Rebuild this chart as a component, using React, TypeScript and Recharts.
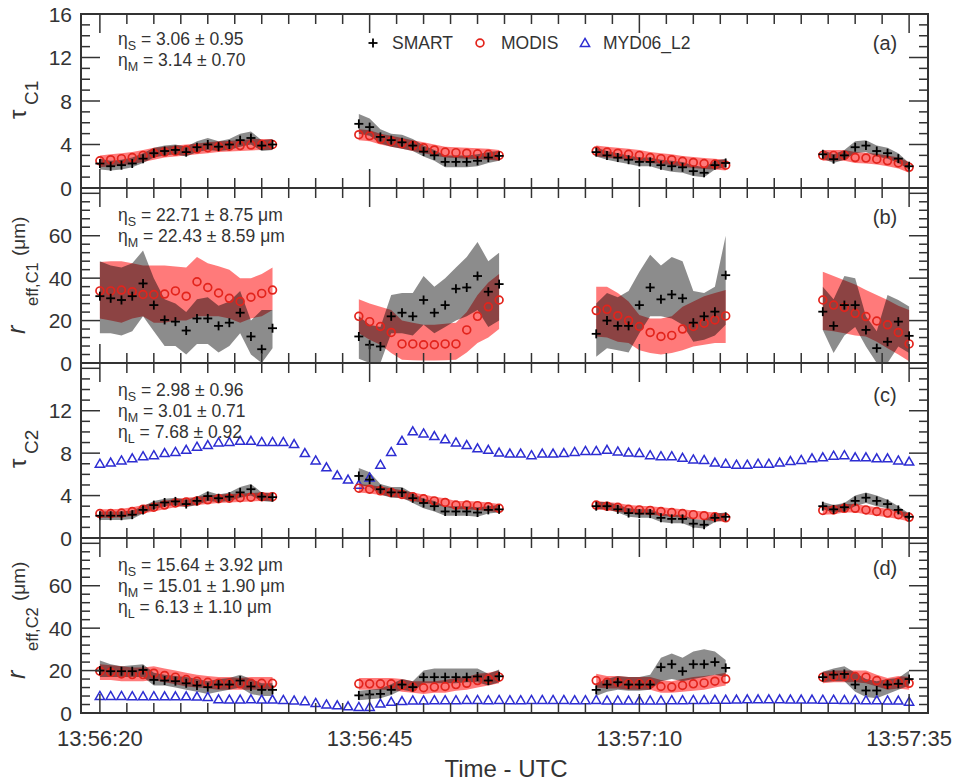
import React from 'react';
import { ComposedChart, Area, Line, XAxis, YAxis, ReferenceArea } from 'recharts';

// ==========================================
// STYLE
// ==========================================

const FONT = '"Liberation Sans", Arial, Helvetica, sans-serif';
const INK = '#333333';
const RED = '#e3241c';
const BLUE = '#2d2dd2';

const PLOT_L = 81;
const PLOT_R = 928;
const M = 30;
const X_DOMAIN = [-1.75, 76.75];

// ==========================================
// DATA  (seconds after 13:56:20)
// ==========================================

// start second of each measurement leg (17, 14, 13, 9 samples)
const LEG_START = [0, 24, 46, 67];
const TIME_LABELS = ['13:56:20', '13:56:45', '13:57:10', '13:57:35'];
const TIME_TICKS = [0, 25, 50, 75];

const LEGEND_NAMES = ['SMART', 'MODIS', 'MYD06_L2'];

const Y_LABELS_A = [0, 4, 8, 12, 16];
const Y_LABELS_B = [0, 20, 40, 60];
const Y_LABELS_C = [0, 4, 8, 12];
const Y_LABELS_D = [0, 20, 40, 60];

const STATS_A = [['S', '3.06 ± 0.95'], ['M', '3.14 ± 0.70']];
const STATS_B = [['S', '22.71 ± 8.75 μm'], ['M', '22.43 ± 8.59 μm']];
const STATS_C = [['S', '2.98 ± 0.96'], ['M', '3.01 ± 0.71'], ['L', '7.68 ± 0.92']];
const STATS_D = [['S', '15.64 ± 3.92 μm'], ['M', '15.01 ± 1.90 μm'], ['L', '6.13 ± 1.10 μm']];

// ---- (a) tau C1
const tauC1Smart = [
  [2.25, 2.0, 2.1, 2.25, 2.7, 3.2, 3.4, 3.5, 3.3, 3.75, 4.0, 3.8, 4.0, 4.4, 4.6, 3.9, 4.0],
  [5.9, 5.6, 4.7, 4.4, 4.2, 3.9, 3.35, 3.0, 2.4, 2.4, 2.4, 2.5, 2.8, 2.95],
  [3.3, 3.0, 2.8, 2.6, 2.4, 2.4, 2.1, 2.0, 1.9, 1.55, 1.4, 2.1, 2.3],
  [3.1, 2.65, 3.0, 3.75, 3.9, 3.4, 3.2, 2.7, 2.0]
];
const tauC1Modis = [
  [2.5, 2.6, 2.7, 2.8, 3.0, 3.2, 3.3, 3.4, 3.5, 3.6, 3.7, 3.8, 3.85, 3.9, 3.95, 4.0, 4.0],
  [4.9, 4.8, 4.5, 4.3, 4.1, 3.9, 3.7, 3.5, 3.3, 3.25, 3.2, 3.15, 3.1, 3.0],
  [3.4, 3.3, 3.2, 3.1, 3.0, 2.8, 2.7, 2.6, 2.45, 2.35, 2.25, 2.2, 2.1],
  [3.0, 3.0, 3.0, 2.8, 2.75, 2.65, 2.5, 2.3, 1.9]
];
const tauC1SmartLo = [
  [1.7, 1.6, 1.7, 1.9, 2.3, 2.8, 3.0, 3.1, 2.9, 3.3, 3.5, 3.4, 3.5, 3.8, 4.0, 3.4, 3.5],
  [5.0, 4.8, 4.1, 3.8, 3.6, 3.4, 2.9, 2.5, 1.9, 1.9, 1.9, 2.0, 2.3, 2.5],
  [2.9, 2.6, 2.4, 2.2, 2.0, 2.0, 1.7, 1.5, 1.4, 1.1, 1.0, 1.7, 1.9],
  [2.7, 2.3, 2.6, 3.2, 3.3, 2.9, 2.7, 2.3, 1.7]
];
const tauC1SmartHi = [
  [2.7, 2.5, 2.6, 2.8, 3.2, 3.7, 3.9, 4.0, 3.8, 4.3, 4.6, 4.3, 4.5, 5.0, 5.2, 4.4, 4.5],
  [6.8, 6.4, 5.4, 5.0, 4.9, 4.5, 3.9, 3.5, 3.0, 3.0, 3.0, 3.1, 3.3, 3.4],
  [3.7, 3.4, 3.2, 3.0, 2.8, 2.8, 2.6, 2.5, 2.4, 2.1, 1.9, 2.5, 2.7],
  [3.5, 3.1, 3.5, 4.3, 4.4, 3.9, 3.7, 3.2, 2.3]
];
const tauC1ModisLo = [
  [1.9, 2.0, 2.1, 2.2, 2.4, 2.6, 2.8, 2.9, 3.0, 3.1, 3.2, 3.3, 3.35, 3.4, 3.45, 3.5, 3.5],
  [4.4, 4.3, 4.0, 3.8, 3.6, 3.4, 3.2, 3.0, 2.8, 2.75, 2.7, 2.65, 2.6, 2.5],
  [2.9, 2.8, 2.7, 2.6, 2.5, 2.3, 2.2, 2.1, 1.95, 1.85, 1.75, 1.7, 1.6],
  [2.5, 2.5, 2.5, 2.3, 2.25, 2.15, 2.0, 1.8, 1.4]
];
const tauC1ModisHi = [
  [3.0, 3.1, 3.2, 3.3, 3.5, 3.7, 3.8, 3.9, 4.0, 4.1, 4.2, 4.3, 4.35, 4.4, 4.5, 4.5, 4.5],
  [5.4, 5.3, 5.0, 4.8, 4.6, 4.4, 4.2, 4.0, 3.8, 3.75, 3.7, 3.65, 3.6, 3.5],
  [3.9, 3.8, 3.7, 3.6, 3.5, 3.3, 3.2, 3.1, 2.95, 2.85, 2.75, 2.7, 2.6],
  [3.5, 3.5, 3.5, 3.3, 3.25, 3.15, 3.0, 2.8, 2.4]
];

// ---- (b) r_eff C1
const reffC1Smart = [
  [31.5, 30.5, 29.7, 31.5, 37.5, 27.3, 20.3, 19.5, 15.3, 21, 21, 17.5, 19, 23.7, 12.5, 6.5, 16.4],
  [12.5, 8.6, 7.8, 22, 23.7, 22, 29.7, 23.7, 27.3, 35, 35.6, 41, 33.6, 37.2],
  [13.75, 20, 17.5, 17.5, 27.3, 35.6, 30, 32.3, 30.5, 19, 22, 24.2, 41.4],
  [24.2, 17.5, 27.3, 27.3, 15.6, 7, 10, 19.5, 12.8]
];
const reffC1Modis = [
  [34, 34, 34.4, 33.6, 32.3, 32.3, 32.5, 34, 31.5, 38.3, 35.6, 33, 30.5, 29, 31, 32.8, 34.4],
  [22, 19.5, 17.2, 14.4, 9, 9, 8.6, 8.6, 9, 9, 15.6, 22, 26.5, 29.7],
  [24.7, 25.3, 22.3, 20, 17.2, 14.4, 12.5, 13, 16, 17.2, 18.75, 20.3, 22.2],
  [29.7, 27.3, 26.2, 23.4, 21.9, 19.8, 18, 14.4, 9]
];
const reffC1SmartLo = [
  [14, 14, 13, 15, 22, 15, 8, 8, 4, 9, 9, 5, 8, 14, 4, 0, 7],
  [2, 0, 0, 14, 14, 13, 18, 14, 17, 20, 22, 25, 17, 20],
  [3, 7, 6, 5, 14, 22, 22, 21, 18, 10, 11, 13, 18],
  [15.6, 4.7, 13, 17, 7.8, 0, 0, 7.8, 4.7]
];
const reffC1SmartHi = [
  [48, 46, 45, 47, 53, 40, 30, 28, 24, 30, 31, 27, 29, 34, 20, 25, 25],
  [22, 18, 17, 32, 33, 33, 41, 36, 40, 45, 50, 57, 48, 52],
  [28, 33, 31, 34, 43, 51, 46, 50, 48, 34, 33, 36, 60],
  [36, 30, 41, 40, 22, 15, 32, 29.7, 26.6]
];
const reffC1ModisLo = [
  [21, 20, 19, 21, 22, 19, 19, 20, 20, 22, 22, 22, 21, 19, 21, 22, 25],
  [14, 11, 8.6, 4.7, 1.5, 1.3, 1.2, 1.2, 1.3, 1.5, 5, 9.4, 12, 16],
  [12.5, 12, 10, 9.4, 6, 4.7, 4, 4.7, 6, 7.8, 8.6, 9.4, 9.4],
  [15.6, 15, 14, 13, 12.5, 10, 7, 4, 0.8]
];
const reffC1ModisHi = [
  [47.6, 48, 48, 47, 46, 46, 46, 45.5, 45, 50, 47, 45.6, 44, 40, 40, 42, 45],
  [30, 28, 26.5, 25, 20, 19, 18, 18, 18.5, 19, 24, 32, 38, 42],
  [36, 36, 33, 29, 22.6, 21, 21, 22, 26.5, 29, 31.5, 33, 34.4],
  [43, 41, 39, 37, 34.4, 32, 29.7, 27, 25]
];

// ---- (c) tau C2
const tauC2Smart = [
  [2.1, 2.1, 2.1, 2.2, 2.65, 3.1, 3.35, 3.45, 3.2, 3.5, 3.95, 3.75, 3.9, 4.3, 4.6, 3.9, 3.85],
  [5.85, 5.5, 4.6, 4.3, 4.3, 3.75, 3.3, 3.0, 2.5, 2.5, 2.5, 2.4, 2.65, 2.7],
  [3.0, 3.0, 2.7, 2.35, 2.3, 2.3, 1.9, 1.8, 1.8, 1.35, 1.25, 1.9, 2.0],
  [3.0, 2.7, 2.9, 3.5, 3.8, 3.5, 3.2, 2.65, 2.0]
];
const tauC2Modis = [
  [2.3, 2.3, 2.35, 2.5, 2.7, 2.9, 3.1, 3.3, 3.4, 3.5, 3.6, 3.7, 3.75, 3.8, 3.85, 3.9, 3.9],
  [4.7, 4.6, 4.45, 4.3, 4.1, 3.9, 3.7, 3.5, 3.35, 3.1, 3.1, 3.05, 2.95, 2.8],
  [3.1, 3.0, 2.9, 2.7, 2.65, 2.6, 2.5, 2.4, 2.3, 2.2, 2.1, 2.0, 1.9],
  [2.6, 2.65, 2.8, 2.8, 2.65, 2.5, 2.35, 2.2, 1.95]
];
const tauC2SmartLo = [
  [1.7, 1.7, 1.7, 1.8, 2.3, 2.7, 3.0, 3.1, 2.9, 3.1, 3.5, 3.4, 3.5, 3.8, 4.0, 3.5, 3.4],
  [5.0, 4.8, 4.1, 3.8, 3.8, 3.3, 2.8, 2.5, 2.1, 2.1, 2.1, 2.0, 2.3, 2.4],
  [2.7, 2.7, 2.4, 2.0, 1.9, 1.9, 1.5, 1.4, 1.4, 1.0, 0.9, 1.5, 1.7],
  [2.7, 2.4, 2.5, 3.0, 3.3, 3.0, 2.8, 2.3, 1.7]
];
const tauC2SmartHi = [
  [2.5, 2.5, 2.5, 2.6, 3.0, 3.5, 3.7, 3.8, 3.6, 3.9, 4.4, 4.1, 4.3, 4.8, 5.1, 4.3, 4.2],
  [6.6, 6.2, 5.1, 4.8, 4.8, 4.2, 3.7, 3.5, 3.0, 3.0, 3.0, 2.9, 3.0, 3.1],
  [3.4, 3.4, 3.1, 2.8, 2.7, 2.7, 2.3, 2.2, 2.2, 1.8, 1.7, 2.3, 2.4],
  [3.4, 3.1, 3.3, 4.0, 4.3, 4.0, 3.6, 3.0, 2.3]
];
const tauC2ModisLo = [
  [1.9, 1.9, 1.95, 2.1, 2.3, 2.5, 2.7, 2.9, 3.0, 3.1, 3.2, 3.3, 3.35, 3.4, 3.45, 3.5, 3.5],
  [4.3, 4.2, 4.05, 3.9, 3.7, 3.5, 3.3, 3.1, 2.95, 2.7, 2.7, 2.65, 2.55, 2.4],
  [2.7, 2.6, 2.5, 2.3, 2.25, 2.2, 2.1, 2.0, 1.9, 1.8, 1.7, 1.6, 1.5],
  [2.2, 2.25, 2.4, 2.4, 2.25, 2.1, 1.95, 1.8, 1.55]
];
const tauC2ModisHi = [
  [2.7, 2.7, 2.75, 2.9, 3.1, 3.3, 3.5, 3.7, 3.8, 3.9, 4.0, 4.1, 4.15, 4.2, 4.25, 4.3, 4.3],
  [5.1, 5.0, 4.85, 4.7, 4.5, 4.3, 4.1, 3.9, 3.75, 3.5, 3.5, 3.45, 3.35, 3.2],
  [3.5, 3.4, 3.3, 3.1, 3.05, 3.0, 2.9, 2.8, 2.7, 2.6, 2.5, 2.4, 2.3],
  [3.0, 3.05, 3.2, 3.2, 3.05, 2.9, 2.75, 2.6, 2.35]
];
// MYD06_L2, one value per second 0..75
const tauC2Myd = [
  7.0, 7.1, 7.3, 7.5, 7.7, 7.8, 8.0, 8.1, 8.3, 8.6,
  8.75, 9.0, 9.05, 9.15, 9.15, 9.05, 9.05, 9.05, 8.85, 8.0,
  7.3, 6.65, 5.9, 5.5, 5.0, 5.7, 6.9, 8.1, 9.15, 10.05,
  9.85, 9.6, 9.3, 9.0, 8.75, 8.45, 8.3, 8.05, 7.95, 7.95,
  7.8, 7.95, 7.95, 8.0, 8.1, 8.2, 8.2, 8.3, 8.15, 8.05,
  8.0, 7.8, 7.7, 7.7, 7.55, 7.4, 7.35, 7.1, 7.0, 6.9,
  6.9, 7.0, 7.0, 7.1, 7.25, 7.35, 7.5, 7.6, 7.75, 7.8,
  7.6, 7.6, 7.5, 7.5, 7.3, 7.2
];

// ---- (d) r_eff C2
const reffC2Smart = [
  [20, 19.7, 19.7, 19.7, 20.3, 15.6, 15.3, 15, 14, 13, 12.2, 13.4, 13.4, 15.3, 12.5, 10.9, 10.9],
  [8.3, 8.75, 9, 10.9, 13.4, 12.2, 16.9, 16.9, 16.9, 16.9, 16.9, 17.2, 15.3, 17.3],
  [10.9, 13.4, 14.5, 13.4, 13.4, 13.4, 21.6, 23, 19.7, 23, 23, 24, 21.25],
  [16.9, 18.1, 18.4, 13.4, 10.6, 10.6, 13.4, 13.75, 16]
];
const reffC2Modis = [
  [19.7, 19.2, 18.4, 18.1, 18.1, 18.75, 17.7, 16.9, 15.8, 15, 14.5, 14, 14, 13.75, 14, 14, 14],
  [13.75, 13.75, 13.75, 13.75, 13, 12.2, 11.9, 12.2, 12.5, 13.4, 14, 15.3, 16, 16.9],
  [15.3, 14.5, 14.5, 13.75, 13.75, 13.75, 12.5, 12.2, 13, 13.75, 14.2, 15, 16],
  [16.9, 17.2, 17.2, 17.2, 16.9, 15.3, 13.75, 14.5, 14]
];
const reffC2SmartLo = [
  [17, 17, 17, 17, 17, 13, 13, 12, 11, 10, 9, 10, 11, 12, 9, 8, 8],
  [6, 6.5, 7, 8.5, 11, 10, 14, 14, 14, 14, 14.5, 14.5, 13, 14.5],
  [8, 10, 11, 10.5, 10.5, 11, 15, 16, 15, 16, 17, 18, 17],
  [14.5, 15, 15, 10, 7.5, 7, 9, 11, 13]
];
const reffC2SmartHi = [
  [24.7, 23, 22, 22.5, 23, 19, 18, 17.5, 17, 16, 15, 16, 16.5, 18, 16, 14, 14],
  [10.5, 11, 11.5, 13.5, 16, 15, 20, 21, 21, 21, 21, 21, 18.5, 20.5],
  [14, 16, 17.5, 17, 17, 18, 26, 28, 26, 29, 30, 29, 25],
  [19.5, 21, 22, 19, 16, 15, 16, 16.5, 20]
];
const reffC2ModisLo = [
  [15.5, 15.5, 15, 15, 15, 15.5, 14.5, 13.5, 12.5, 12, 11.5, 11, 11, 11, 11, 11, 11],
  [11, 11, 11, 11, 10, 9.5, 9, 9.5, 9.5, 10.5, 11, 12, 13, 14],
  [12, 11.5, 11.5, 11, 11, 11, 9.5, 9.5, 10, 10.5, 11, 12, 13],
  [14, 14.5, 14.5, 14.5, 14, 12.5, 11, 11.5, 11]
];
const reffC2ModisHi = [
  [23, 22.5, 22, 21.5, 21.5, 22, 21, 20, 19, 18, 17.5, 17, 17, 16.5, 17, 17, 17],
  [16.5, 16.5, 16.5, 16.5, 16, 15, 15, 15, 15.5, 16.5, 17, 18.5, 19, 20],
  [18.5, 17.5, 17.5, 17, 17, 17, 15.5, 15, 16, 17, 17.5, 18, 19],
  [19.5, 20, 20, 20, 20, 18, 16.5, 17.5, 17]
];
const reffC2Myd = [
  8.0, 8.0, 8.0, 7.9, 7.9, 7.9, 7.8, 7.8, 7.8, 7.7,
  7.5, 6.4, 6.3, 6.3, 6.4, 6.3, 6.3, 6.1, 5.9, 5.5,
  4.7, 4.0, 3.6, 3.1, 2.8, 2.8, 4.4, 5.2, 5.6, 5.9,
  5.9, 6.0, 6.0, 6.0, 6.1, 6.1, 6.0, 6.1, 6.0, 6.0,
  6.1, 6.1, 6.1, 6.1, 6.0, 6.0, 6.1, 5.9, 5.9, 5.8,
  5.8, 5.9, 5.9, 6.0, 6.0, 6.1, 6.1, 6.2, 6.2, 6.3,
  6.4, 6.4, 6.4, 6.4, 6.3, 6.3, 6.3, 6.2, 6.2, 6.1,
  6.1, 6.0, 6.0, 5.9, 5.8, 5.3
];

// ==========================================
// TABLE BUILDER
// ==========================================

function buildRows(smart: number[][], modis: number[][], sLo: number[][], sHi: number[][],
  mLo: number[][], mHi: number[][], myd?: number[]) {
  const rows: any[] = [];
  const n = myd ? myd.length : 76;
  for (let t = 0; t < n; t++) {
    rows.push({ t, s: null, m: null, sb: null, mb: null, l: myd ? myd[t] : null });
  }
  LEG_START.forEach((t0, k) => {
    smart[k].forEach((v, i) => {
      const r = rows[t0 + i];
      r.s = v;
      r.m = modis[k][i];
      r.sb = [sLo[k][i], sHi[k][i]];
      r.mb = [mLo[k][i], mHi[k][i]];
    });
  });
  return rows;
}

const rowsA = buildRows(tauC1Smart, tauC1Modis, tauC1SmartLo, tauC1SmartHi, tauC1ModisLo, tauC1ModisHi);
const rowsB = buildRows(reffC1Smart, reffC1Modis, reffC1SmartLo, reffC1SmartHi, reffC1ModisLo, reffC1ModisHi);
const rowsC = buildRows(tauC2Smart, tauC2Modis, tauC2SmartLo, tauC2SmartHi, tauC2ModisLo, tauC2ModisHi, tauC2Myd);
const rowsD = buildRows(reffC2Smart, reffC2Modis, reffC2SmartLo, reffC2SmartHi, reffC2ModisLo, reffC2ModisHi, reffC2Myd);

// x ticks every 2.5 s
const X_TICKS: number[] = [];
for (let i = 0; i <= 30; i++) X_TICKS.push(i * 2.5);

// ==========================================
// MARKERS
// ==========================================

const ok = (p: any) => p && p.value != null && Number.isFinite(p.cx) && Number.isFinite(p.cy);

const PlusMark = ({ cx, cy }: any) => (
  <g>
    <line x1={cx - 4.5} x2={cx + 4.5} y1={cy} y2={cy} stroke="#000" strokeWidth={1.8} />
    <line x1={cx} x2={cx} y1={cy - 4.5} y2={cy + 4.5} stroke="#000" strokeWidth={1.8} />
  </g>
);
const CircleMark = ({ cx, cy }: any) => (
  <circle cx={cx} cy={cy} r={3.9} fill="none" stroke={RED} strokeWidth={1.7} />
);
const TriMark = ({ cx, cy }: any) => (
  <path d={`M${cx},${cy - 4.6} L${cx + 4.6},${cy + 3.4} L${cx - 4.6},${cy + 3.4} Z`}
    fill="none" stroke={BLUE} strokeWidth={1.5} />
);

const plusDot = (p: any) => ok(p) ? <PlusMark key={`s${p.index}`} cx={p.cx} cy={p.cy} /> : <g key={`s${p.index}`} />;
const circleDot = (p: any) => ok(p) ? <CircleMark key={`m${p.index}`} cx={p.cx} cy={p.cy} /> : <g key={`m${p.index}`} />;
const triDot = (p: any) => ok(p) ? <TriMark key={`l${p.index}`} cx={p.cx} cy={p.cy} /> : <g key={`l${p.index}`} />;

// ==========================================
// PANEL
// ==========================================

function Panel({ top, h, yMax, tickStep, tickTop, majorStep, labels, rows, myd, bottom }: any) {
  const mb = bottom ? 60 : M;
  const height = h + M + mb;
  const plotTop = M;
  const plotBottom = M + h;

  const yTicks: number[] = [];
  for (let v = 0; v <= tickTop + 1e-9; v += tickStep) yTicks.push(v);

  const renderY = (p: any) => {
    const v = p.payload.value;
    const y = p.payload.coordinate ?? p.y;
    const len = v % majorStep === 0 ? 19 : 9;
    return (
      <g>
        <line x1={PLOT_L} x2={PLOT_L + len} y1={y} y2={y} stroke={INK} strokeWidth={1.5} />
        <line x1={PLOT_R} x2={PLOT_R - len} y1={y} y2={y} stroke={INK} strokeWidth={1.5} />
        {labels.includes(v) && (
          <text x={PLOT_L - 9} y={y} dy="0.36em" textAnchor="end" fontSize={21}
            fontFamily={FONT} fill={INK}>{v}</text>
        )}
      </g>
    );
  };

  const renderX = (p: any) => {
    const v = p.payload.value;
    const x = p.payload.coordinate ?? p.x;
    const major = v % 25 === 0;
    const len = major ? 19 : 10;
    return (
      <g>
        <line x1={x} x2={x} y1={plotBottom} y2={plotBottom - len} stroke={INK} strokeWidth={1.5} />
        <line x1={x} x2={x} y1={plotTop} y2={plotTop + len} stroke={INK} strokeWidth={1.5} />
        {bottom && major && (
          <text x={x} y={plotBottom + 33} textAnchor="middle" fontSize={22}
            fontFamily={FONT} fill={INK}>{TIME_LABELS[TIME_TICKS.indexOf(v)]}</text>
        )}
      </g>
    );
  };

  return (
    <div style={{ position: 'absolute', left: 0, top: top - M }}>
      <ComposedChart width={954} height={height} data={rows}
        margin={{ top: M, right: 954 - PLOT_R, bottom: mb - 1, left: PLOT_L - 1 }}>
        <XAxis type="number" dataKey="t" domain={X_DOMAIN} ticks={X_TICKS} interval={0}
          height={1} tickLine={false} axisLine={false} tick={renderX} allowDataOverflow />
        <YAxis type="number" domain={[0, yMax]} ticks={yTicks} interval={0} width={1}
          tickLine={false} axisLine={false} tick={renderY} allowDataOverflow />

        <Area dataKey="mb" type="linear" stroke="none" fill="#ff0000" fillOpacity={0.52}
          isAnimationActive={false} dot={false} activeDot={false} />
        <Area dataKey="sb" type="linear" stroke="none" fill="#000000" fillOpacity={0.45}
          isAnimationActive={false} dot={false} activeDot={false} />

        <ReferenceArea x1={X_DOMAIN[0]} x2={X_DOMAIN[1]} y1={0} y2={yMax}
          fill="none" stroke={INK} strokeWidth={2} ifOverflow="visible" />

        {myd && (
          <Line dataKey="l" stroke="none" dot={triDot} activeDot={false} isAnimationActive={false} />
        )}
        <Line dataKey="m" stroke="none" dot={circleDot} activeDot={false} isAnimationActive={false} />
        <Line dataKey="s" stroke="none" dot={plusDot} activeDot={false} isAnimationActive={false} />
      </ComposedChart>
    </div>
  );
}

// ==========================================
// TEXT HELPERS
// ==========================================

function Stats({ y, rows }: any) {
  return (
    <g>
      {rows.map((r: string[], i: number) => (
        <text key={i} x={118} y={y + i * 21} fontSize={17.5} fontFamily={FONT} fill={INK}>
          <tspan>η</tspan>
          <tspan dy={5} fontSize={12.5}>{r[0]}</tspan>
          <tspan dy={-5}>{' = ' + r[1]}</tspan>
        </text>
      ))}
    </g>
  );
}

const rot = (x: number, y: number) => `rotate(-90 ${x} ${y})`;

function TauTitle({ y0, sub }: any) {
  return (
    <g fontFamily={FONT} fill={INK}>
      <text x={26} y={y0} transform={rot(26, y0)} fontSize={24}>τ</text>
      <text x={38} y={y0 - 14} transform={rot(38, y0 - 14)} fontSize={19}>{sub}</text>
    </g>
  );
}

function ReffTitle({ y0, sub }: any) {
  return (
    <g fontFamily={FONT} fill={INK}>
      <text x={25} y={y0} transform={rot(25, y0)} fontSize={25} fontStyle="italic">r</text>
      <text x={38} y={y0 - 28} transform={rot(38, y0 - 28)} fontSize={16.5}>{sub}</text>
      <text x={25} y={y0 - 78} transform={rot(25, y0 - 78)} fontSize={19}>(μm)</text>
    </g>
  );
}

// ==========================================
// APP
// ==========================================

export default function App() {
  return (
    <div style={{ position: 'absolute', left: 0, top: 0, width: 954, height: 783, background: '#fff', overflow: 'hidden' }}>

      <Panel top={14} h={174} yMax={16} tickStep={1} tickTop={16} majorStep={4} labels={Y_LABELS_A} rows={rowsA} />
      <Panel top={188} h={175} yMax={82.5} tickStep={4} tickTop={80} majorStep={20} labels={Y_LABELS_B} rows={rowsB} />
      <Panel top={363} h={175} yMax={16.5} tickStep={1} tickTop={16} majorStep={4} labels={Y_LABELS_C} rows={rowsC} myd />
      <Panel top={538} h={175} yMax={82.5} tickStep={4} tickTop={80} majorStep={20} labels={Y_LABELS_D} rows={rowsD} myd bottom />

      <svg width={954} height={783} style={{ position: 'absolute', left: 0, top: 0, pointerEvents: 'none' }}>

        {/* LEGEND */}
        <PlusMark cx={373} cy={43} />
        <text x={392} y={49} fontSize={17.5} fontFamily={FONT} fill={INK}>{LEGEND_NAMES[0]}</text>
        <CircleMark cx={480} cy={43} />
        <text x={501} y={49} fontSize={17.5} fontFamily={FONT} fill={INK}>{LEGEND_NAMES[1]}</text>
        <TriMark cx={585} cy={43} />
        <text x={603} y={49} fontSize={17.5} fontFamily={FONT} fill={INK}>{LEGEND_NAMES[2]}</text>

        {/* PANEL LETTERS */}
        <text x={885} y={50} textAnchor="middle" fontSize={20} fontFamily={FONT} fill={INK}>(a)</text>
        <text x={885} y={224} textAnchor="middle" fontSize={20} fontFamily={FONT} fill={INK}>(b)</text>
        <text x={885} y={402} textAnchor="middle" fontSize={20} fontFamily={FONT} fill={INK}>(c)</text>
        <text x={885} y={575} textAnchor="middle" fontSize={20} fontFamily={FONT} fill={INK}>(d)</text>

        {/* STATS */}
        <Stats y={45} rows={STATS_A} />
        <Stats y={221} rows={STATS_B} />
        <Stats y={396} rows={STATS_C} />
        <Stats y={571} rows={STATS_D} />

        {/* AXIS TITLES */}
        <TauTitle y0={119} sub="C1" />
        <ReffTitle y0={334} sub="eff,C1" />
        <TauTitle y0={468} sub="C2" />
        <ReffTitle y0={679} sub="eff,C2" />

        <text x={506} y={777} textAnchor="middle" fontSize={24} fontFamily={FONT} fill={INK}>Time - UTC</text>
      </svg>
    </div>
  );
}
